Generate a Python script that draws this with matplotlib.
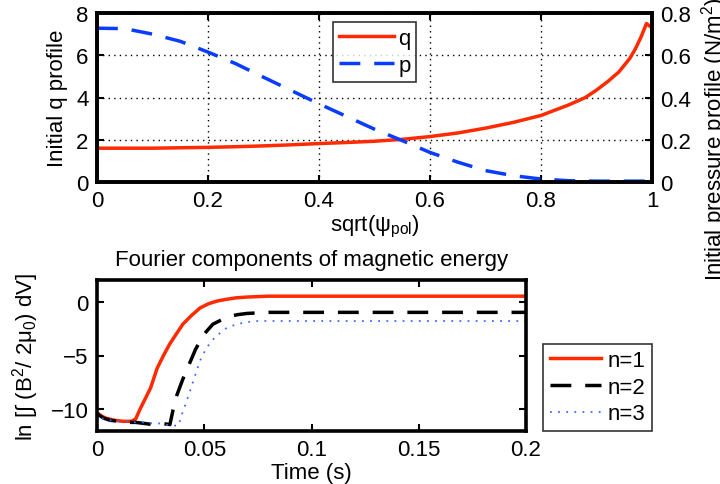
import matplotlib
matplotlib.use("Agg")
import matplotlib.pyplot as plt

plt.rcParams['font.family'] = ['Liberation Sans', 'DejaVu Sans']
plt.rcParams['mathtext.fontset'] = 'custom'
plt.rcParams['mathtext.rm'] = 'Liberation Sans'
plt.rcParams['mathtext.it'] = 'Liberation Sans'
plt.rcParams['font.size'] = 16

# Initial profiles versus normalized radius
rho_q = [0, 0.05, 0.1, 0.15, 0.2, 0.25, 0.3, 0.35, 0.4, 0.45, 0.5, 0.55, 0.6, 0.65,
         0.7, 0.75, 0.8, 0.85, 0.88, 0.9, 0.92, 0.94, 0.96, 0.97, 0.98, 0.99, 1.0]
q_vals = [1.6, 1.6, 1.6, 1.62, 1.64, 1.67, 1.71, 1.76, 1.82, 1.87, 1.93, 2.02, 2.15, 2.32,
          2.55, 2.82, 3.15, 3.65, 4.0, 4.35, 4.75, 5.2, 5.85, 6.3, 6.85, 7.5, 7.3]

rho_p = [0, 0.05, 0.1, 0.15, 0.2, 0.25, 0.3, 0.35, 0.4, 0.45, 0.5, 0.55, 0.6, 0.65,
         0.7, 0.75, 0.8, 0.85, 0.9, 0.95, 1.0]
p_vals = [0.728, 0.726, 0.70, 0.666, 0.615, 0.56, 0.496, 0.433, 0.37, 0.31, 0.25, 0.196,
          0.14, 0.094, 0.054, 0.03, 0.014, 0.006, 0.004, 0.004, 0.004]

# Fourier components of magnetic energy versus time
t_n1 = [0, 0.002, 0.004, 0.006, 0.008, 0.01, 0.012, 0.014, 0.016, 0.018, 0.02, 0.022,
        0.025, 0.028, 0.031, 0.034, 0.037, 0.04, 0.044, 0.048, 0.052, 0.056, 0.06,
        0.065, 0.07, 0.08, 0.09, 0.1, 0.2]
e_n1 = [-10.3, -10.6, -10.8, -10.9, -11.0, -11.05, -11.1, -11.1, -11.1, -10.9, -10.0,
        -9.2, -8.0, -6.2, -5.0, -3.9, -3.0, -2.1, -1.3, -0.6, -0.2, 0.05, 0.2,
        0.35, 0.42, 0.5, 0.5, 0.5, 0.5]

t_n2 = [0, 0.003, 0.006, 0.01, 0.014, 0.018, 0.022, 0.026, 0.03, 0.034, 0.0355, 0.037,
        0.04, 0.043, 0.046, 0.05, 0.054, 0.058, 0.062, 0.066, 0.07, 0.08, 0.2]
e_n2 = [-10.4, -10.8, -11.0, -11.1, -11.2, -11.2, -11.3, -11.4, -11.3, -11.4, -10.0, -8.8,
        -7.2, -5.8, -4.4, -3.0, -2.1, -1.7, -1.35, -1.2, -1.1, -1.0, -1.0]

t_n3 = [0, 0.003, 0.006, 0.01, 0.014, 0.018, 0.022, 0.026, 0.03, 0.034, 0.038, 0.0395,
        0.042, 0.045, 0.048, 0.051, 0.055, 0.06, 0.065, 0.07, 0.075, 0.08, 0.2]
e_n3 = [-10.2, -10.9, -11.0, -11.1, -11.1, -11.2, -11.2, -11.3, -11.3, -11.5, -11.5, -10.5,
        -9.1, -7.3, -5.5, -4.3, -3.3, -2.5, -2.1, -1.9, -1.8, -1.8, -1.8]

RED = '#ff2a00'
BLUE = '#0a3cff'
LBLUE = '#3a6cff'

W, H = 720, 485
fig = plt.figure(figsize=(W / 100, H / 100), dpi=100)


def px_axes(x0, y0, x1, y1):
    return fig.add_axes([x0 / W, 1 - y1 / H, (x1 - x0) / W, (y1 - y0) / H])


def style(ax):
    for s in ax.spines.values():
        s.set_linewidth(2.6)
    ax.tick_params(direction='in', length=5, width=1.5, pad=6)


# ---- top panel ----
ax1 = px_axes(97, 14, 652, 183)
style(ax1)
lq, = ax1.plot(rho_q, q_vals, color=RED, lw=2.5, label='q')
ax1.set_xlim(0, 1)
ax1.set_ylim(0, 8)
ax1.set_xticks([0, 0.2, 0.4, 0.6, 0.8, 1])
ax1.set_xticklabels(['0', '0.2', '0.4', '0.6', '0.8', '1'])
ax1.set_yticks([0, 2, 4, 6, 8])
ax1.grid(True, linestyle=(0, (1, 3)), color='black', lw=1)
ax1.tick_params(top=True)
ax1.set_ylabel('Initial q profile', labelpad=6)
ax1.set_xlabel('sqrt(ψ$_{\\mathregular{pol}}$)', labelpad=1)

ax2 = ax1.twinx()
style(ax2)
lp, = ax2.plot(rho_p, p_vals, color=BLUE, lw=2.5, dashes=(6, 4), label='p')
ax2.set_ylim(0, 0.8)
ax2.set_yticks([0, 0.2, 0.4, 0.6, 0.8])
ax2.set_yticklabels(['0', '0.2', '0.4', '0.6', '0.8'])
ax2.set_ylabel('Initial pressure profile (N/m$^2$)')
ax2.yaxis.set_label_coords(1.084, 0.26)

leg1 = ax2.legend(handles=[lq, lp], loc='upper left',
                  bbox_to_anchor=((333 - 97) / 555, 1 - (23 - 14) / 169),
                  frameon=True, fancybox=False, edgecolor='black', borderpad=0.25,
                  handlelength=2.5, handletextpad=0.2, labelspacing=0.3,
                  borderaxespad=0)
leg1.get_frame().set_linewidth(1.2)

# ---- bottom panel ----
ax3 = px_axes(97, 281, 526, 432)
style(ax3)
l1, = ax3.plot(t_n1, e_n1, color=RED, lw=2.5, label='n=1')
l2, = ax3.plot(t_n2, e_n2, color='black', lw=2.5, dashes=(6, 4), label='n=2')
l3, = ax3.plot(t_n3, e_n3, color=LBLUE, lw=1.3, linestyle=(0, (1, 3.5)), label='n=3')
ax3.set_xlim(0, 0.2)
ax3.set_ylim(-12, 2)
ax3.set_xticks([0, 0.05, 0.1, 0.15, 0.2])
ax3.set_xticklabels(['0', '0.05', '0.1', '0.15', '0.2'])
ax3.set_yticks([-10, -5, 0])
ax3.set_yticklabels(['\u221210', '\u22125', '0'])
ax3.tick_params(top=True, right=True)
ax3.set_xlabel('Time (s)', labelpad=1)
ax3.set_ylabel('ln [\u222b (B$^2$/ 2\u03bc$_{\\mathregular{0}}$) dV]', labelpad=7)
ax3.set_title('Fourier components of magnetic energy', fontsize=16, pad=11)

leg2 = ax3.legend(handles=[l1, l2, l3], loc='lower left',
                  bbox_to_anchor=((543 - 97) / 429, 0), frameon=True, fancybox=False,
                  edgecolor='black', borderpad=0.3, handlelength=2.3,
                  handletextpad=0.3, labelspacing=0.25, borderaxespad=0)
leg2.get_frame().set_linewidth(1.2)

fig.savefig('out.png', dpi=100)
